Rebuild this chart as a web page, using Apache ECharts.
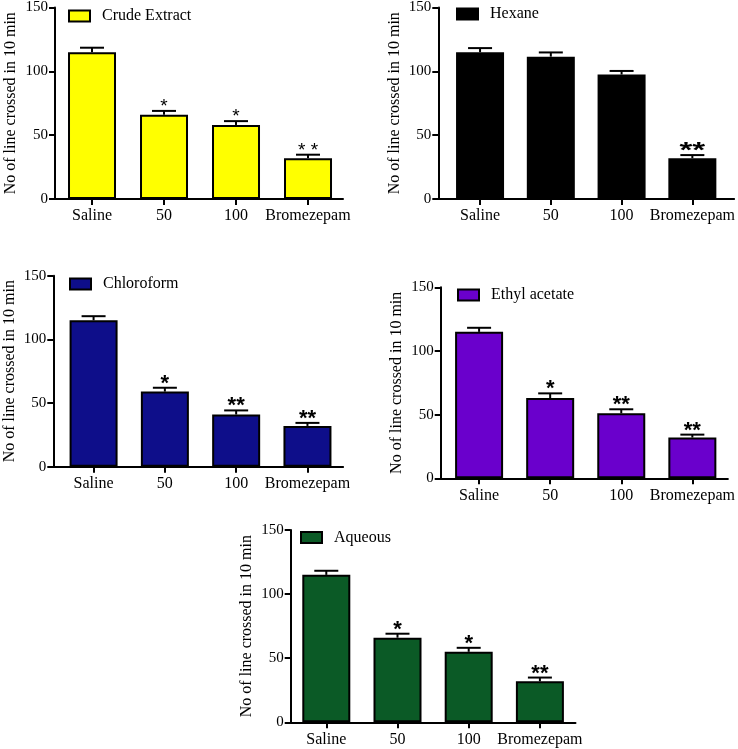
<!DOCTYPE html>
<html>
<head>
<meta charset="utf-8">
<script src="https://cdn.jsdelivr.net/npm/echarts@6/dist/echarts.min.js"></script>
<style>
html,body{margin:0;padding:0;background:#fff;}
#chart{width:738px;height:749px;}
</style>
</head>
<body>
<div id="chart"></div>
<script>
// ---- data ----
const categories = ['Saline', '50', '100', 'Bromezepam'];
const panelNames = ['Crude Extract', 'Hexane', 'Chloroform', 'Ethyl acetate', 'Aqueous'];
const yTicks = [0, 50, 100, 150];
const yAxisTitle = 'No of line crossed in 10 min';

const crudeMeans = [115, 66, 58, 32];
const crudeErrors = [3.5, 3, 3, 2.7];
const crudeSig = ['', '*', '*', '* *'];

const hexaneMeans = [115, 111.5, 97.5, 32];
const hexaneErrors = [3.2, 3.3, 2.8, 2.4];
const hexaneSig = ['', '', '', '**'];

const chloroformMeans = [115, 59, 41, 32];
const chloroformErrors = [3.2, 3, 3.2, 2.4];
const chloroformSig = ['', '*', '**', '**'];

const ethylMeans = [115, 63, 51, 32];
const ethylErrors = [3.2, 3.7, 3.2, 2.3];
const ethylSig = ['', '*', '**', '**'];

const aqueousMeans = [115, 66, 55, 32];
const aqueousErrors = [3.2, 3.1, 3.1, 2.9];
const aqueousSig = ['', '*', '*', '**'];

const panelMeans = [crudeMeans, hexaneMeans, chloroformMeans, ethylMeans, aqueousMeans];
const panelErrors = [crudeErrors, hexaneErrors, chloroformErrors, ethylErrors, aqueousErrors];
const panelSig = [crudeSig, hexaneSig, chloroformSig, ethylSig, aqueousSig];

// ---- styles / layout ----
const colors = ['#ffff00', '#000000', '#0e0e8a', '#6a00cc', '#0b5a26'];
const layouts = [
  {left: 55, top: 7, width: 288, height: 192, xMin: -0.514, xMax: 3.486, legendLeft: 68, legendTop: 10.5},
  {left: 438.3, top: 7.3, width: 296.8, height: 191.7, xMin: -0.59, xMax: 3.59, legendLeft: 456, legendTop: 8.5},
  {left: 53.3, top: 275.7, width: 289.8, height: 191, xMin: -0.565, xMax: 3.5, legendLeft: 69, legendTop: 278.5},
  {left: 440.7, top: 287.3, width: 288, height: 191, xMin: -0.54, xMax: 3.5, legendLeft: 457, legendTop: 289.5},
  {left: 290.7, top: 530, width: 284.8, height: 192.3, xMin: -0.5, xMax: 3.5, legendLeft: 300, legendTop: 532}
];
const starStyles = [
  {font: 'normal 19px "Liberation Sans"', scaleX: 1},
  {font: 'bold 22px "Liberation Sans"', scaleX: 1.5},
  {font: 'bold 22px "Liberation Sans"', scaleX: 1},
  {font: 'bold 22px "Liberation Sans"', scaleX: 1},
  {font: 'bold 22px "Liberation Sans"', scaleX: 1}
];
const serif = '"Liberation Serif", "Times New Roman", serif';

const grids = [], xAxes = [], yAxes = [], series = [], legends = [];

layouts.forEach((L, i) => {
  grids.push({left: L.left, top: L.top, width: L.width, height: L.height, containLabel: false});
  xAxes.push({
    type: 'value', gridIndex: i, min: L.xMin, max: L.xMax,
    splitLine: {show: false},
    axisLine: {show: true, onZero: false, lineStyle: {color: '#000', width: 2}},
    axisTick: {show: true, length: 6, lineStyle: {color: '#000', width: 2}, customValues: [0, 1, 2, 3]},
    axisLabel: {
      customValues: [0, 1, 2, 3], margin: 9,
      color: '#000', fontFamily: serif, fontSize: 16,
      formatter: v => categories[Math.round(v)]
    }
  });
  yAxes.push({
    type: 'value', gridIndex: i, min: yTicks[0], max: yTicks[yTicks.length - 1], interval: yTicks[1] - yTicks[0],
    splitLine: {show: false},
    axisLine: {show: true, onZero: false, lineStyle: {color: '#000', width: 2}},
    axisTick: {show: true, length: 6, lineStyle: {color: '#000', width: 2}},
    axisLabel: {margin: 7, color: '#000', fontFamily: serif, fontSize: 15},
    name: yAxisTitle, nameLocation: 'middle', nameGap: 36,
    nameTextStyle: {color: '#000', fontFamily: serif, fontSize: 16}
  });
  const means = panelMeans[i], errs = panelErrors[i], sig = panelSig[i];
  series.push({
    name: panelNames[i], type: 'bar', xAxisIndex: i, yAxisIndex: i,
    barWidth: 48,
    itemStyle: {color: colors[i], borderColor: '#000', borderWidth: 2},
    data: means.map((m, k) => [k, m]),
    z: 2
  });
  const st = starStyles[i];
  series.push({
    name: panelNames[i] + ' error', type: 'custom', xAxisIndex: i, yAxisIndex: i,
    encode: {x: 0, y: 1},
    data: means.map((m, k) => [k, m, errs[k]]),
    z: 3,
    renderItem: function (params, api) {
      const x = api.value(0), m = api.value(1), e = api.value(2);
      const s = sig[params.dataIndex];
      const p0 = api.coord([x, m]);
      const p1 = api.coord([x, m + e]);
      const children = [
        {type: 'line', shape: {x1: p0[0], y1: p0[1], x2: p1[0], y2: p1[1]}, style: {stroke: '#000', lineWidth: 2}},
        {type: 'line', shape: {x1: p1[0] - 12, y1: p1[1], x2: p1[0] + 12, y2: p1[1]}, style: {stroke: '#000', lineWidth: 2}}
      ];
      if (s) {
        children.push({
          type: 'text', x: p1[0], y: p1[1] - 4, scaleX: st.scaleX,
          style: {text: s, font: st.font, fill: '#000', align: 'center', verticalAlign: 'middle'}
        });
      }
      return {type: 'group', children: children};
    }
  });
  legends.push({
    data: [{name: panelNames[i], icon: 'rect'}],
    left: L.legendLeft, top: L.legendTop - 2.5, padding: 0,
    itemWidth: 21, itemHeight: 11,
    selectedMode: false,
    textStyle: {color: '#000', fontFamily: serif, fontSize: 16, padding: [0, 0, 0, 7]}
  });
});

const chart = echarts.init(document.getElementById('chart'), null, {renderer: 'canvas'});
chart.setOption({
  backgroundColor: '#fff',
  animation: false,
  grid: grids, xAxis: xAxes, yAxis: yAxes, legend: legends, series: series
});
</script>
</body>
</html>
